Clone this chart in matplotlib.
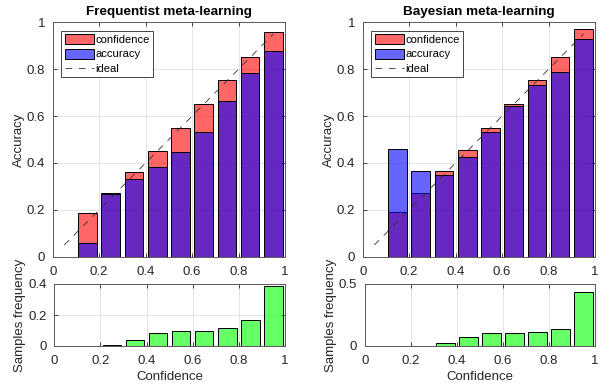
import numpy as np
import matplotlib
matplotlib.use('Agg')
import matplotlib.pyplot as plt
from matplotlib.ticker import FuncFormatter

plt.rcParams['font.family'] = ['Liberation Sans', 'DejaVu Sans']
plt.rcParams['font.size'] = 9.5

# bin centres (confidence bins of width 0.1)
bins = [0.15, 0.25, 0.35, 0.45, 0.55, 0.65, 0.75, 0.85, 0.95]

# frequentist meta-learning
freq_conf = [0.186, 0.271, 0.360, 0.452, 0.550, 0.650, 0.752, 0.851, 0.959]
freq_acc = [0.058, 0.268, 0.331, 0.382, 0.446, 0.531, 0.665, 0.784, 0.877]
freq_samples = [0.0, 0.005, 0.040, 0.084, 0.100, 0.095, 0.115, 0.168, 0.385]

# bayesian meta-learning
bayes_conf = [0.190, 0.272, 0.364, 0.456, 0.551, 0.651, 0.752, 0.852, 0.970]
bayes_acc = [0.461, 0.367, 0.350, 0.425, 0.532, 0.645, 0.733, 0.787, 0.928]
bayes_samples = [0.0, 0.0, 0.022, 0.070, 0.103, 0.103, 0.114, 0.135, 0.432]

ideal = [0.05, 0.95]

W, H = 613, 385
fig = plt.figure(figsize=(W / 100, H / 100), dpi=100)

def ax_px(x0, x1, y0, y1):
    return fig.add_axes([x0 / W, 1 - y1 / H, (x1 - x0) / W, (y1 - y0) / H])

txt = '#262626'
fmt = FuncFormatter(lambda v, p: '%g' % round(v, 3))

def style(ax):
    ax.set_xlim(0, 1)
    ax.grid(True, color='#dedede', lw=0.6)
    ax.set_axisbelow(True)
    ax.tick_params(direction='in', length=3, width=0.6, top=True, right=True,
                   colors=txt, labelsize=9.5)
    ax.tick_params(axis='x', pad=6.5)
    ax.tick_params(axis='y', pad=5.5)
    for s in ax.spines.values():
        s.set_color('#5a5a5a')
        s.set_linewidth(0.7)
    ax.set_xticks(np.arange(0, 1.01, 0.2))
    ax.xaxis.set_major_formatter(fmt)
    ax.yaxis.set_major_formatter(fmt)

def top(ax, conf, acc, title):
    style(ax)
    ax.bar(bins, conf, width=0.08, facecolor=(1, 0, 0, 0.6), edgecolor='k',
           lw=0.7, label='confidence')
    ax.bar(bins, acc, width=0.08, facecolor=(0, 0, 1, 0.6), edgecolor='k',
           lw=0.7, label='accuracy')
    ax.plot(ideal, ideal, color='#303030', lw=0.6, ls=(0, (8, 8)), label='ideal')
    ax.set_ylim(0, 1)
    ax.set_yticks(np.arange(0, 1.01, 0.2))
    ax.set_title(title, fontweight='bold', fontsize=9.7, pad=5)
    ax.set_ylabel('Accuracy', color=txt, labelpad=1)
    h, l = ax.get_legend_handles_labels()
    order = [l.index('confidence'), l.index('accuracy'), l.index('ideal')]
    leg = ax.legend([h[i] for i in order], [l[i] for i in order],
                    loc='upper left', fancybox=False, framealpha=1,
                    edgecolor='#262626', handlelength=2.6, handleheight=1.0,
                    handletextpad=0.15, labelspacing=0.32, borderpad=0.3,
                    borderaxespad=0.75, fontsize=8.1)
    leg.get_frame().set_linewidth(0.6)

def bottom(ax, samples, ymax, yticks):
    style(ax)
    ax.bar(bins, samples, width=0.08, facecolor=(0, 1, 0, 0.6), edgecolor='k', lw=0.7)
    ax.set_ylim(0, ymax)
    ax.set_yticks(yticks)
    ax.set_xlabel('Confidence', color=txt, labelpad=2.5)
    ax.set_ylabel('Samples frequency', color=txt, labelpad=1.5)

ax1 = ax_px(52.7, 285, 22.3, 256.7)
top(ax1, freq_conf, freq_acc, 'Frequentist meta-learning')
ax2 = ax_px(362.7, 595, 22.3, 256.7)
top(ax2, bayes_conf, bayes_acc, 'Bayesian meta-learning')

ax3 = ax_px(54.3, 285, 284, 346)
bottom(ax3, freq_samples, 0.4, [0, 0.2, 0.4])
ax4 = ax_px(365, 595, 284, 346)
bottom(ax4, bayes_samples, 0.5, [0, 0.5])

fig.savefig('out.png', dpi=100)
